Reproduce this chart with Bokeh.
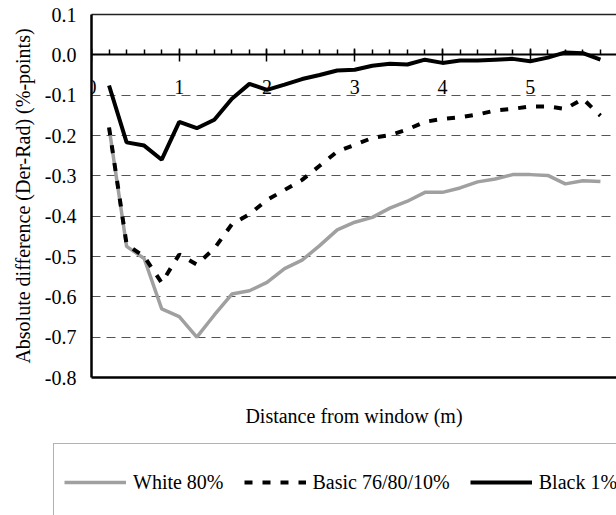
from bokeh.plotting import figure
from bokeh.layouts import column
from bokeh.models import (LinearAxis, FixedTicker, SingleIntervalTicker, Range1d,
                          Legend, LegendItem, NumeralTickFormatter)
from bokeh.embed import file_html
from bokeh.resources import INLINE

# ---- data ----
distance = [0.2, 0.4, 0.6, 0.8, 1.0, 1.2, 1.4, 1.6, 1.8, 2.0,
            2.2, 2.4, 2.6, 2.8, 3.0, 3.2, 3.4, 3.6, 3.8, 4.0,
            4.2, 4.4, 4.6, 4.8, 5.0, 5.2, 5.4, 5.6, 5.8]
white_80 = [-0.180, -0.475, -0.505, -0.630, -0.649, -0.700, -0.645, -0.593, -0.585, -0.564,
            -0.530, -0.509, -0.473, -0.434, -0.415, -0.403, -0.380, -0.363, -0.341, -0.341,
            -0.330, -0.315, -0.308, -0.297, -0.297, -0.299, -0.320, -0.312, -0.314]
basic_76 = [-0.180, -0.470, -0.500, -0.565, -0.495, -0.520, -0.480, -0.420, -0.395, -0.360,
            -0.335, -0.310, -0.275, -0.240, -0.223, -0.206, -0.199, -0.185, -0.166, -0.159,
            -0.155, -0.148, -0.138, -0.134, -0.128, -0.128, -0.134, -0.109, -0.151]
black_1 = [-0.076, -0.217, -0.225, -0.260, -0.166, -0.182, -0.161, -0.109, -0.072, -0.087,
           -0.074, -0.060, -0.050, -0.039, -0.037, -0.027, -0.022, -0.024, -0.012, -0.020,
           -0.014, -0.014, -0.012, -0.010, -0.016, -0.007, 0.006, 0.004, -0.012]
series_labels = ["White 80%", "Basic 76/80/10%", "Black 1%"]
y_ticks = [0.1, 0.0, -0.1, -0.2, -0.3, -0.4, -0.5, -0.6, -0.7, -0.8]
grid_levels = [-0.1, -0.2, -0.3, -0.4, -0.5, -0.6, -0.7]
x_title = "Distance from window (m)"
y_title = "Absolute difference (Der-Rad) (%-points)"

FONT = "Liberation Serif"
FS = "20px"

styles = [dict(line_color="#a0a0a0", line_width=3.5),
          dict(line_color="black", line_width=4, line_dash="8 10"),
          dict(line_color="black", line_width=4)]
series = [white_80, basic_76, black_1]

p = figure(width=616, height=443, output_backend="svg", toolbar_location=None,
           x_range=Range1d(0, 5.983), y_range=Range1d(-0.8, 0.1),
           x_axis_location=None,
           min_border_left=91, min_border_right=0, min_border_top=14, min_border_bottom=66)
p.frame_align = False
p.outline_line_color = None
p.background_fill_color = "white"
p.border_fill_color = "white"

# y axis
ya = p.yaxis[0]
ya.ticker = FixedTicker(ticks=y_ticks)
ya.formatter = NumeralTickFormatter(format="0.0")
ya.major_tick_in = 0
ya.major_tick_out = 0
ya.minor_tick_in = 0
ya.minor_tick_out = 0
ya.axis_line_width = 2.5
ya.axis_line_color = "black"
ya.major_label_text_font = FONT
ya.major_label_text_font_size = FS
ya.major_label_text_color = "black"
ya.major_label_standoff = 15
ya.axis_label = y_title
ya.axis_label_text_font = FONT
ya.axis_label_text_font_size = FS
ya.axis_label_text_font_style = "normal"
ya.axis_label_text_color = "black"
ya.axis_label_standoff = 8

# grid
p.ygrid.ticker = FixedTicker(ticks=grid_levels)
p.ygrid.grid_line_color = "#555555"
p.ygrid.grid_line_dash = "9 6"
p.ygrid.grid_line_width = 1
p.xgrid.visible = False

# top border
top_ax = LinearAxis(ticker=FixedTicker(ticks=[]), major_tick_out=0, major_tick_in=0,
                    minor_tick_out=0, minor_tick_in=0, major_label_standoff=0,
                    axis_line_width=1.5, axis_line_color="#222222")
p.add_layout(top_ax, "above")

# bottom border + title
bot_ax = LinearAxis(ticker=FixedTicker(ticks=[]), major_tick_out=0, major_tick_in=0,
                    minor_tick_out=0, minor_tick_in=0, major_label_standoff=0,
                    axis_line_width=2.5, axis_line_color="black",
                    axis_label=x_title, axis_label_text_font=FONT,
                    axis_label_text_font_size=FS, axis_label_text_font_style="normal",
                    axis_label_text_color="black", axis_label_standoff=27)
p.add_layout(bot_ax, "below")

# x axis crossing at y = 0
zero_ax = LinearAxis(fixed_location=0,
                     ticker=SingleIntervalTicker(interval=1, num_minor_ticks=5),
                     major_tick_in=6, major_tick_out=7, minor_tick_in=5, minor_tick_out=0,
                     major_tick_line_width=1.5, minor_tick_line_width=1.5,
                     axis_line_width=2, axis_line_color="black",
                     major_label_text_font=FONT, major_label_text_font_size=FS,
                     major_label_text_color="black", major_label_standoff=18)
p.add_layout(zero_ax, "below")

for ys, st in zip(series, styles):
    p.line(distance, ys, **st)

# legend strip (separate figure; its box is cut at the bottom as in the reference)
q = figure(width=616, height=72, output_backend="svg", toolbar_location=None,
           x_range=Range1d(0, 1), y_range=Range1d(10, 11),
           x_axis_location=None, y_axis_location=None,
           min_border_left=0, min_border_right=0, min_border_top=0, min_border_bottom=0)
q.frame_align = False
q.outline_line_color = None
q.xgrid.visible = False
q.ygrid.visible = False
q.border_fill_color = "white"
rs = [q.line(distance, ys, **st) for ys, st in zip(series, styles)]

legend = Legend(items=[LegendItem(label=lab, renderers=[r]) for lab, r in zip(series_labels, rs)],
                orientation="horizontal", location=(53, -6),
                glyph_width=62, glyph_height=56, label_height=56, label_standoff=7,
                spacing=20, padding=10, margin=0,
                border_line_color="#666666", border_line_width=1,
                background_fill_color="white", background_fill_alpha=1,
                label_text_font=FONT, label_text_font_size=FS, label_text_color="black")
q.add_layout(legend)

layout = column(p, q, spacing=0)
open("out.html", "w").write(file_html(layout, INLINE))
